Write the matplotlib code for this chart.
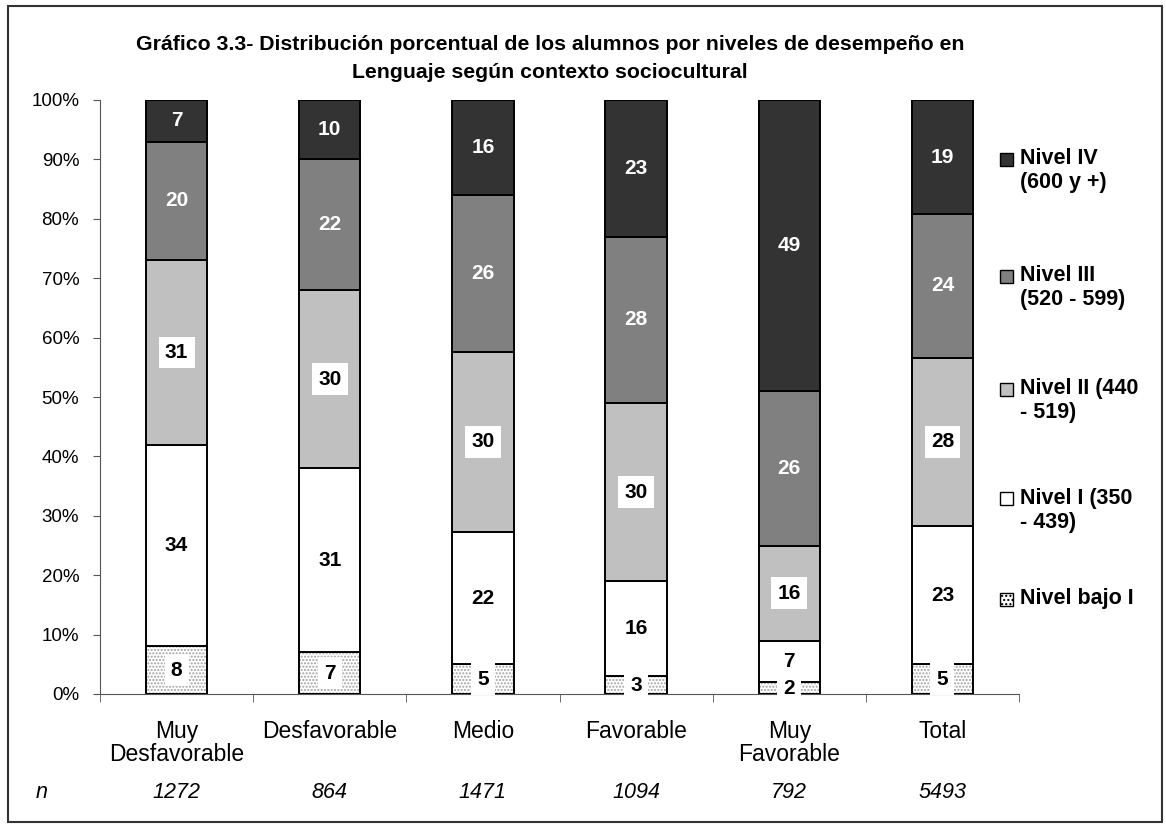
import numpy as np
import matplotlib
matplotlib.use("Agg")
import matplotlib.pyplot as plt
from matplotlib.patches import Rectangle

plt.rcParams['font.family'] = ['Liberation Sans', 'DejaVu Sans']

# Datos (porcentajes por nivel de desempeño)
categorias = ['Muy\nDesfavorable', 'Desfavorable', 'Medio', 'Favorable', 'Muy\nFavorable', 'Total']
n_alumnos = [1272, 864, 1471, 1094, 792, 5493]
nivel_bajo = [8, 7, 5, 3, 2, 5]
nivel_1 = [34, 31, 22.3, 16, 7, 23.3]
nivel_2 = [31, 30, 30.3, 30, 16, 28.3]
nivel_3 = [20, 22, 26.4, 28, 26, 24.2]
nivel_4 = [7, 10, 16, 23, 49, 19.2]

niveles = [nivel_bajo, nivel_1, nivel_2, nivel_3, nivel_4]
nombres = ['Nivel bajo I', 'Nivel I (350\n- 439)', 'Nivel II (440\n- 519)',
           'Nivel III\n(520 - 599)', 'Nivel IV\n(600 y +)']
colores = ['white', 'white', '#C0C0C0', '#808080', '#333333']

W, H = 1166, 825
fig = plt.figure(figsize=(W / 100, H / 100), dpi=100)
ax = fig.add_axes([100 / W, 1 - 694 / H, 919 / W, 594 / H])

x = np.arange(len(categorias))
ancho = 0.4
base = np.zeros(len(categorias))
for i, vals in enumerate(niveles):
    vals = np.array(vals, dtype=float)
    if i == 0:
        # relleno punteado gris y borde negro por separado
        ax.bar(x, vals, ancho, bottom=base, color='white', edgecolor='#A0A0A0',
               hatch='.....', linewidth=0, zorder=2)
        ax.bar(x, vals, ancho, bottom=base, color='none', edgecolor='black',
               linewidth=1.4, zorder=3)
    else:
        ax.bar(x, vals, ancho, bottom=base, color=colores[i], edgecolor='black',
               linewidth=1.4, zorder=3)
    for xi, b, v in zip(x, base, vals):
        etiqueta = str(int(round(v)))
        if i >= 3:
            ax.text(xi, b + v / 2, etiqueta, ha='center', va='center', color='white',
                    fontsize=15, fontweight='bold', zorder=5)
        else:
            ax.text(xi, b + v / 2, etiqueta, ha='center', va='center', color='black',
                    fontsize=15, fontweight='bold', zorder=5,
                    bbox=dict(boxstyle='square,pad=0.3', facecolor='white', edgecolor='none'))
    base += vals

ax.set_xlim(-0.5, len(categorias) - 0.5)
ax.set_ylim(0, 100)
ax.set_yticks(np.arange(0, 101, 10))
ax.set_yticklabels([f'{v}%' for v in range(0, 101, 10)])
ax.set_xticks(x)
ax.set_xticklabels(categorias, linespacing=1.0)
ax.set_xticks(np.arange(-0.5, len(categorias), 1), minor=True)
ax.tick_params(axis='x', which='major', length=0, pad=19, labelsize=16.5)
ax.tick_params(axis='x', which='minor', length=6, direction='out', color='#555555')
ax.tick_params(axis='y', length=5, direction='out', pad=10, labelsize=13.5, color='#555555')
for lado in ['top', 'right']:
    ax.spines[lado].set_visible(False)
ax.spines['left'].set_color('#555555')
ax.spines['bottom'].set_color('#555555')

# fila de n
fig.text(42 / W, 1 - 793 / H, 'n', ha='center', va='center', fontsize=15.5, style='italic')
for xi, nv in zip(x, n_alumnos):
    ax.annotate(str(nv), xy=(xi, 0), xycoords=('data', 'axes fraction'),
                xytext=(0, -(793 - 694)), textcoords='offset pixels',
                ha='center', va='center', fontsize=15.5, style='italic')

# titulo
fig.text(550 / W, 1 - 44 / H,
         'Gráfico 3.3- Distribución porcentual de los alumnos por niveles de desempeño en',
         ha='center', va='center', fontsize=15.3, fontweight='bold')
fig.text(550 / W, 1 - 73 / H, 'Lenguaje según contexto sociocultural',
         ha='center', va='center', fontsize=15.3, fontweight='bold')

# leyenda manual
pos_ley = [599, 499, 389, 276, 159]
for i in range(len(niveles)):
    yc = pos_ley[i]
    fig.add_artist(Rectangle((1000 / W, 1 - (yc + 6.5) / H), 13 / W, 13 / H,
                             transform=fig.transFigure, facecolor=colores[i],
                             edgecolor='black', linewidth=1,
                             hatch='....' if i == 0 else None))
    fig.text(1020 / W, 1 - (yc - 11) / H, nombres[i], ha='left', va='top',
             fontsize=15.5, fontweight='bold', linespacing=1.2)

# marco exterior
fig.add_artist(Rectangle((8 / W, 1 - 822 / H), 1154 / W, 816 / H, transform=fig.transFigure,
                         facecolor='none', edgecolor='#333333', linewidth=1.5))

fig.savefig('out.png', dpi=100)
